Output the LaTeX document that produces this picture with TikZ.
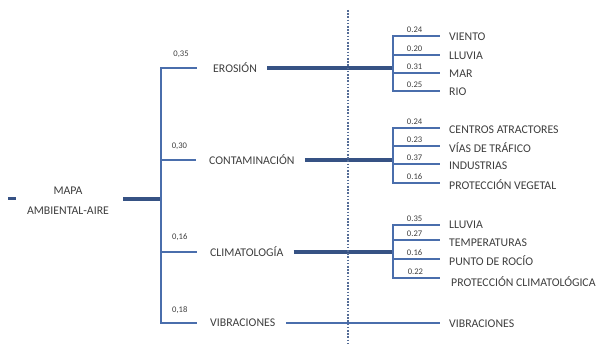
\documentclass[tikz,border=0pt]{standalone}
\usepackage{fontspec}
\setmainfont{Carlito}
\usepackage{tikz}
\tikzset{>=latex}
\definecolor{azul}{RGB}{74,110,172}
\definecolor{azulosc}{RGB}{54,82,132}
\definecolor{tinta}{RGB}{62,62,62}
\tikzset{
    rama/.style={draw=azul, line width=2.4pt},
    tronco/.style={draw=azulosc, line width=4.2pt},
    etq/.style={text=tinta, font=\fontsize{11.8}{13}\selectfont, inner sep=2pt, anchor=west},
    peso/.style={text=tinta, font=\fontsize{8.6}{10}\selectfont, inner sep=1pt},
    punteado/.style={draw=azulosc!85, line width=1.6pt, dash pattern=on 1.6pt off 1.6pt},
}

\begin{document}
\begin{tikzpicture}[x=1pt, y=-1pt]
    \useasboundingbox(0, 0)rectangle(602, 344);
    % raiz
    \coordinate(ent)at(8, 199);
    \coordinate(ent2)at(16, 199);
    \coordinate(j0)at(161, 199);
    \node[etq, anchor=center, align=center, inner sep=0pt, font=\fontsize{11.8}{20}\selectfont](mapa)at(68, 201){MAPA\\AMBIENTAL-AIRE};
    \draw[azulosc, line width=3pt](ent)--(ent2);
    \draw[tronco, shorten <=14pt](mapa.east|-j0)--(j0);
    % primer nivel
    \coordinate(jero)at(161, 68);
    \coordinate(jcon)at(161, 160);
    \coordinate(jcli)at(161, 252);
    \coordinate(jvib)at(161, 323);
    \node[etq](ero)at(211, 68){EROSIÓN};
    \node[etq](con)at(207, 160){CONTAMINACIÓN};
    \node[etq](cli)at(208, 252){CLIMATOLOGÍA};
    \node[etq](vib)at(208, 323){VIBRACIONES};
    \draw[rama, line cap=rect](jero)--(jvib);
    \draw[rama, shorten >=14pt](jero)--(ero.west)node[peso, pos=0.4, above=8pt]{0,35};
    \draw[rama, shorten >=11pt](jcon)--(con.west)node[peso, pos=0.4, above=8pt]{0,30};
    \draw[rama, shorten >=11pt](jcli)--(cli.west)node[peso, pos=0.4, above=9pt]{0,16};
    \draw[rama, shorten >=11pt](jvib)--(vib.west)node[peso, pos=0.4, above=7pt]{0,18};
    % erosion
    \coordinate(ero1)at(393, 36);
    \coordinate(ero2)at(393, 55);
    \coordinate(ero3)at(393, 73);
    \coordinate(ero4)at(393, 91);
    \coordinate(sero)at(393, 68);
    \node[etq](viento)at(447, 37){VIENTO};
    \node[etq](lluvia)at(447, 56){LLUVIA};
    \node[etq](mar)at(447, 74){MAR};
    \node[etq](rio)at(447, 92){RIO};
    \draw[tronco, shorten <=8pt](ero.east)--(sero);
    \draw[rama, line cap=rect](ero1)--(ero4);
    \draw[rama, shorten >=7pt](ero1)--(ero1-|viento.west)node[peso, pos=0.4, above=1.5pt]{0.24};
    \draw[rama, shorten >=7pt](ero2)--(ero2-|lluvia.west)node[peso, pos=0.4, above=1.5pt]{0.20};
    \draw[rama, shorten >=7pt](ero3)--(ero3-|mar.west)node[peso, pos=0.4, above=1.5pt]{0.31};
    \draw[rama, shorten >=7pt](ero4)--(ero4-|rio.west)node[peso, pos=0.4, above=1.5pt]{0.25};
    % contaminacion
    \coordinate(con1)at(393, 128);
    \coordinate(con2)at(393, 146);
    \coordinate(con3)at(393, 164);
    \coordinate(con4)at(393, 183);
    \coordinate(scon)at(393, 160);
    \node[etq](centros)at(447, 130){CENTROS ATRACTORES};
    \node[etq](vias)at(447, 148){VÍAS DE TRÁFICO};
    \node[etq](indus)at(447, 166){INDUSTRIAS};
    \node[etq](veget)at(447, 185){PROTECCIÓN VEGETAL};
    \draw[tronco, shorten <=8pt](con.east)--(scon);
    \draw[rama, line cap=rect](con1)--(con4);
    \draw[rama, shorten >=7pt](con1)--(con1-|centros.west)node[peso, pos=0.4, above=1.5pt]{0.24};
    \draw[rama, shorten >=7pt](con2)--(con2-|vias.west)node[peso, pos=0.4, above=1.5pt]{0.23};
    \draw[rama, shorten >=7pt](con3)--(con3-|indus.west)node[peso, pos=0.4, above=1.5pt]{0.37};
    \draw[rama, shorten >=7pt](con4)--(con4-|veget.west)node[peso, pos=0.4, above=1.5pt]{0.16};
    % climatologia
    \coordinate(cli1)at(393, 225);
    \coordinate(cli2)at(393, 240);
    \coordinate(cli3)at(393, 259);
    \coordinate(cli4)at(393, 278);
    \coordinate(scli)at(393, 252);
    \node[etq](lluvia2)at(447, 225){LLUVIA};
    \node[etq](temp)at(447, 243){TEMPERATURAS};
    \node[etq](rocio)at(447, 261){PUNTO DE ROCÍO};
    \node[etq](protc)at(449, 282){PROTECCIÓN CLIMATOLÓGICA};
    \draw[tronco, shorten <=8pt](cli.east)--(scli);
    \draw[rama, line cap=rect](cli1)--(cli4);
    \draw[rama, shorten >=7pt](cli1)--(cli1-|lluvia2.west)node[peso, pos=0.4, above=1.5pt]{0.35};
    \draw[rama, shorten >=7pt](cli2)--(cli2-|temp.west)node[peso, pos=0.4, above=1.5pt]{0.27};
    \draw[rama, shorten >=7pt](cli3)--(cli3-|rocio.west)node[peso, pos=0.4, above=1.5pt]{0.16};
    \draw[rama, shorten >=9pt](cli4)--(cli4-|protc.west)node[peso, pos=0.4, above=1.5pt]{0.22};
    % vibraciones
    \node[etq](vibr)at(447, 324){VIBRACIONES};
    \draw[azul, line width=2.8pt, shorten <=9pt, shorten >=7pt](vib.east)--(vib.east-|vibr.west);
    \draw[punteado](348, 10)--(348, 344);
\end{tikzpicture}
\end{document}
